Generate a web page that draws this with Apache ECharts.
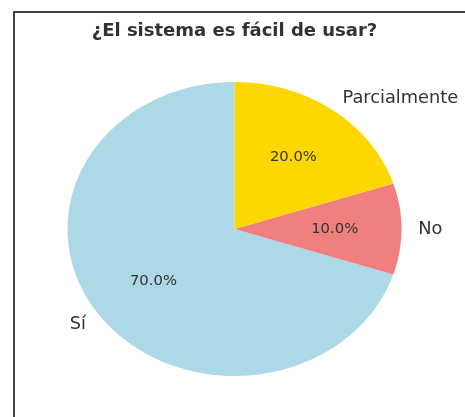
<!DOCTYPE html>
<html>
<head>
<meta charset="utf-8">
<script src="https://cdn.jsdelivr.net/npm/echarts@6/dist/echarts.min.js"></script>
<style>
  html, body { margin: 0; padding: 0; background: #fff; }
  #chart { width: 465px; height: 417px; }
</style>
</head>
<body>
<div id="chart"></div>
<script>
// Answer shares for the survey question
var labels = ["Sí", "No", "Parcialmente"];
var values = [70, 10, 20];
var colors = ["#add8e6", "#f08080", "#ffd700"];
var titleText = "¿El sistema es fácil de usar?";

var START_ANGLE = 90;   // first wedge starts at 12 o'clock, counter-clockwise
var PCT_RADIUS = 0.6;
var LABEL_RADIUS = 1.1;
var FONT = "DejaVu Sans";

var total = values.reduce(function (a, b) { return a + b; }, 0);

function wedgeAngles(i) {
  var before = 0;
  for (var k = 0; k < i; k++) before += values[k];
  var a0 = START_ANGLE + 360 * before / total;
  return [a0, a0 + 360 * values[i] / total];
}

function rad(d) { return d * Math.PI / 180; }

var chart = echarts.init(document.getElementById("chart"), null, { renderer: "canvas" });

// The pie sits in plain data coordinates (x/y scales differ, so it is an ellipse)
function renderWedge(params, api) {
  var i = params.dataIndex;
  var a = wedgeAngles(i);
  var pts = [api.coord([0, 0])];
  var steps = 120;
  for (var s = 0; s <= steps; s++) {
    var t = rad(a[0] + (a[1] - a[0]) * s / steps);
    pts.push(api.coord([Math.cos(t), Math.sin(t)]));
  }
  return {
    type: "polygon",
    shape: { points: pts },
    style: { fill: colors[i], stroke: null }
  };
}

function renderLabels(params, api) {
  var i = params.dataIndex;
  var a = wedgeAngles(i);
  var mid = rad((a[0] + a[1]) / 2);
  var cx = Math.cos(mid), cy = Math.sin(mid);
  var lp = api.coord([LABEL_RADIUS * cx, LABEL_RADIUS * cy]);
  var pp = api.coord([PCT_RADIUS * cx, PCT_RADIUS * cy]);
  return {
    type: "group",
    children: [
      {
        type: "text",
        x: lp[0], y: lp[1],
        style: {
          text: labels[i],
          fill: "#333",
          font: "17.8px '" + FONT + "'",
          align: cx > 0 ? "left" : "right",
          verticalAlign: "middle"
        }
      },
      {
        type: "text",
        x: pp[0], y: pp[1],
        style: {
          text: (100 * values[i] / total).toFixed(1) + "%",
          fill: "#333",
          font: "14.8px '" + FONT + "'",
          align: "center",
          verticalAlign: "middle"
        }
      }
    ]
  };
}

var seriesData = values.map(function (v, i) { return [0, 0, v]; });

chart.setOption({
  animation: false,
  grid: { left: 34.1, top: 52.6, width: 400.8, height: 352.8 },
  xAxis: { type: "value", min: -1.2, max: 1.2, show: false },
  yAxis: { type: "value", min: -1.2, max: 1.2, show: false },
  graphic: [
    {
      type: "polyline",
      shape: { points: [[14, 420], [14, 12], [470, 12]] },
      style: { stroke: "#444", lineWidth: 2, fill: null },
      z: 100
    },
    {
      type: "text",
      x: 234.5, y: 31,
      style: {
        text: titleText,
        fill: "#333",
        font: "bold 18px '" + FONT + "'",
        align: "center",
        verticalAlign: "middle"
      },
      z: 100
    }
  ],
  series: [
    {
      type: "custom",
      clip: false,
      renderItem: renderWedge,
      data: seriesData,
      z: 2
    },
    {
      type: "custom",
      clip: false,
      renderItem: renderLabels,
      data: seriesData,
      z: 3
    }
  ]
});

window.addEventListener("resize", function () { chart.resize(); });
</script>
</body>
</html>
